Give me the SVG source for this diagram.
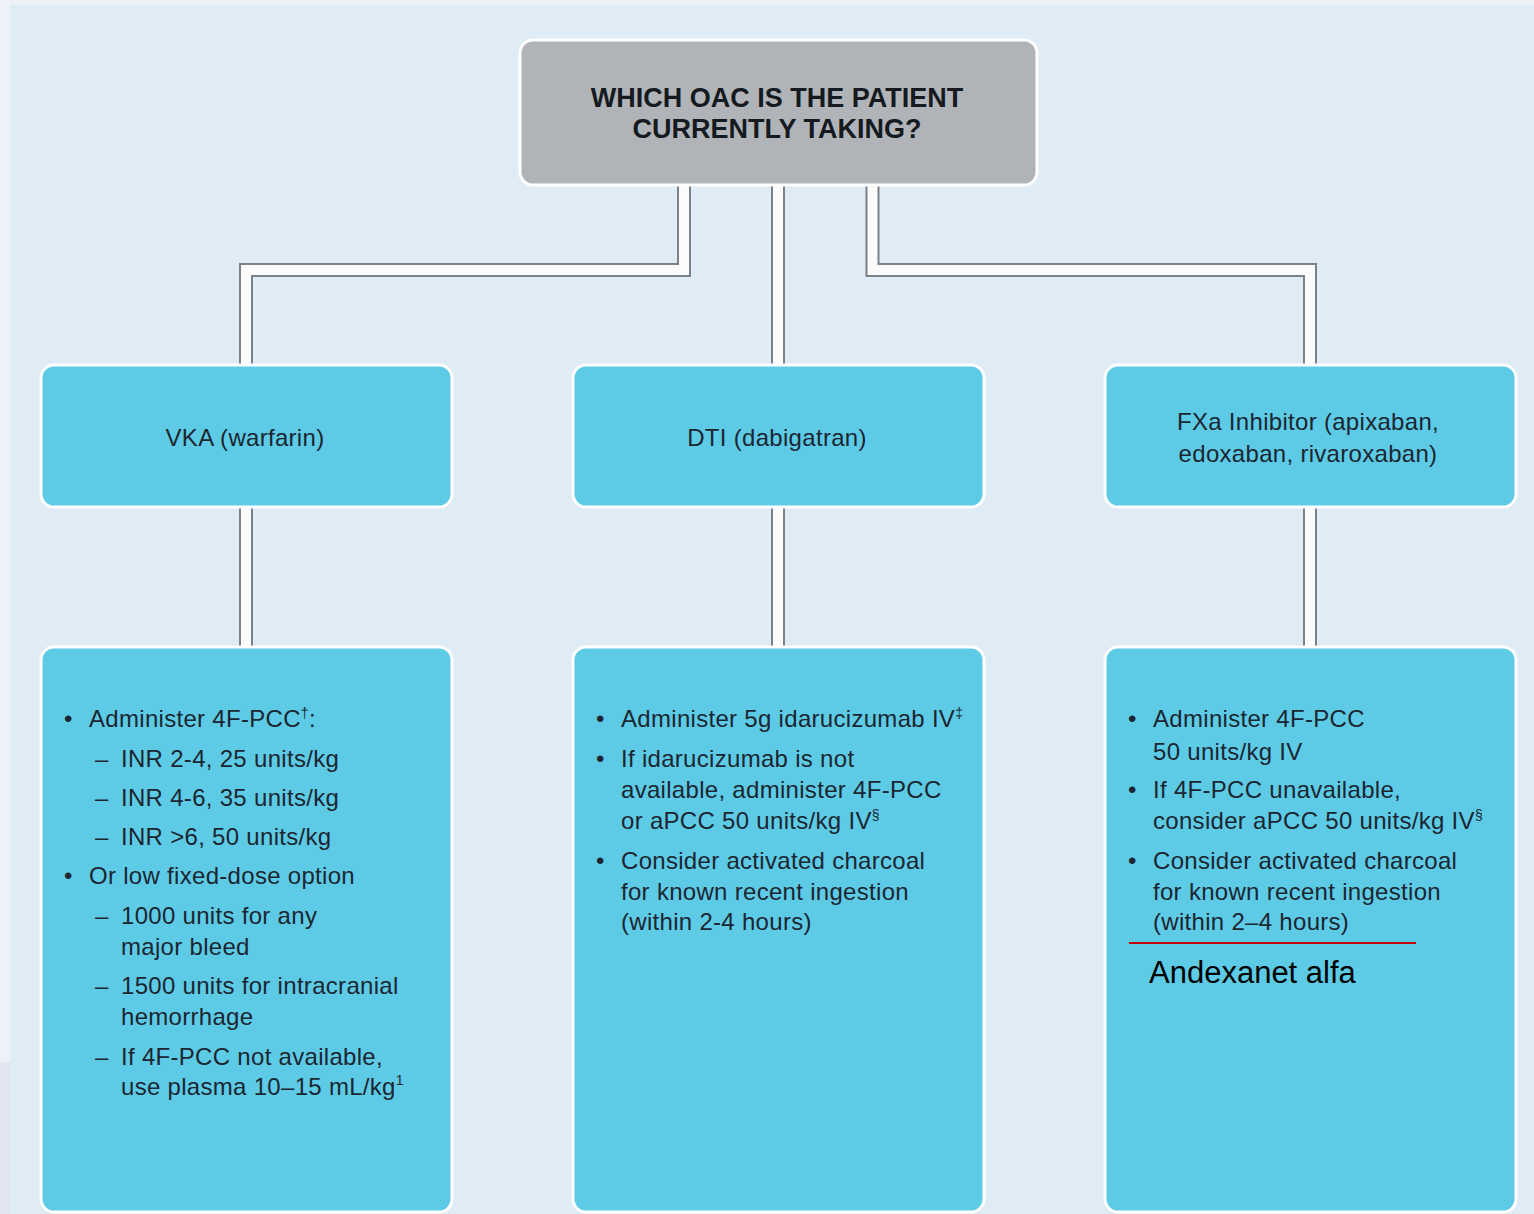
<svg xmlns="http://www.w3.org/2000/svg" width="1534" height="1214" viewBox="0 0 1534 1214">
<style>
.box{fill:#5ecbe6;stroke:#ffffff;stroke-width:3}
.top{fill:#b0b4b8;stroke:#ffffff;stroke-width:3}
.co{fill:none;stroke:#7c8187;stroke-width:14}
.ci{fill:none;stroke:#fbfbfb;stroke-width:10}
.t{font-family:"Liberation Sans",Arial,sans-serif;font-size:24px;fill:#1b2631;letter-spacing:0.3px}
.h{font-family:"Liberation Sans",Arial,sans-serif;font-size:24px;fill:#1b2631;text-anchor:middle;letter-spacing:0.3px}
.q{font-family:"Liberation Sans",Arial,sans-serif;font-size:27px;font-weight:bold;fill:#151a20;text-anchor:middle}
.sup{font-size:14px}
</style>
<rect x="0" y="0" width="1534" height="1214" fill="#eef1f8"/>
<rect x="10" y="5" width="1524" height="1209" fill="#dfebf5"/>
<rect x="0" y="1062" width="10" height="152" fill="#e3e5f0"/>

<g id="connectors">
<path class="co" d="M684,185 V270 H246 V366"/>
<path class="ci" d="M684,185 V270 H246 V366"/>
<path class="co" d="M778,185 V366"/>
<path class="ci" d="M778,185 V366"/>
<path class="co" d="M872.5,185 V270 H1310 V366"/>
<path class="ci" d="M872.5,185 V270 H1310 V366"/>
<path class="co" d="M246,506 V648"/>
<path class="ci" d="M246,506 V648"/>
<path class="co" d="M778,506 V648"/>
<path class="ci" d="M778,506 V648"/>
<path class="co" d="M1310,506 V648"/>
<path class="ci" d="M1310,506 V648"/>
</g>

<g id="question">
<rect class="top" x="520" y="40" width="517" height="145" rx="13"/>
<text class="q" x="777" y="107">WHICH OAC IS THE PATIENT</text>
<text class="q" x="777" y="138">CURRENTLY TAKING?</text>
</g>

<g id="vka">
<rect class="box" x="41" y="365" width="411" height="142" rx="13"/>
<text class="h" x="245" y="446">VKA (warfarin)</text>
</g>
<g id="dti">
<rect class="box" x="573" y="365" width="411" height="142" rx="13"/>
<text class="h" x="777" y="446">DTI (dabigatran)</text>
</g>
<g id="fxa">
<rect class="box" x="1105" y="365" width="411" height="142" rx="13"/>
<text class="h" x="1308" y="430">FXa Inhibitor (apixaban,</text>
<text class="h" x="1308" y="462">edoxaban, rivaroxaban)</text>
</g>

<g id="vka-treatment">
<rect class="box" x="41" y="647" width="411" height="565" rx="13"/>
<text class="t" x="64" y="727">•</text>
<text class="t" x="89" y="727">Administer 4F-PCC<tspan class="sup" dy="-9">†</tspan><tspan dy="9">:</tspan></text>
<text class="t" x="95" y="767">–</text>
<text class="t" x="121" y="767">INR 2-4, 25 units/kg</text>
<text class="t" x="95" y="806">–</text>
<text class="t" x="121" y="806">INR 4-6, 35 units/kg</text>
<text class="t" x="95" y="845">–</text>
<text class="t" x="121" y="845">INR &gt;6, 50 units/kg</text>
<text class="t" x="64" y="884">•</text>
<text class="t" x="89" y="884">Or low fixed-dose option</text>
<text class="t" x="95" y="924">–</text>
<text class="t" x="121" y="924">1000 units for any</text>
<text class="t" x="121" y="955">major bleed</text>
<text class="t" x="95" y="994">–</text>
<text class="t" x="121" y="994">1500 units for intracranial</text>
<text class="t" x="121" y="1025">hemorrhage</text>
<text class="t" x="95" y="1065">–</text>
<text class="t" x="121" y="1065">If 4F-PCC not available,</text>
<text class="t" x="121" y="1095">use plasma 10–15 mL/kg<tspan class="sup" dy="-10">1</tspan></text>
</g>

<g id="dti-treatment">
<rect class="box" x="573" y="647" width="411" height="565" rx="13"/>
<text class="t" x="596" y="727">•</text>
<text class="t" x="621" y="727">Administer 5g idarucizumab IV<tspan class="sup" dy="-9">‡</tspan></text>
<text class="t" x="596" y="767">•</text>
<text class="t" x="621" y="767">If idarucizumab is not</text>
<text class="t" x="621" y="798">available, administer 4F-PCC</text>
<text class="t" x="621" y="829">or aPCC 50 units/kg IV<tspan class="sup" dy="-9">§</tspan></text>
<text class="t" x="596" y="869">•</text>
<text class="t" x="621" y="869">Consider activated charcoal</text>
<text class="t" x="621" y="900">for known recent ingestion</text>
<text class="t" x="621" y="930">(within 2-4 hours)</text>
</g>

<g id="fxa-treatment">
<rect class="box" x="1105" y="647" width="411" height="565" rx="13"/>
<text class="t" x="1128" y="727">•</text>
<text class="t" x="1153" y="727">Administer 4F-PCC</text>
<text class="t" x="1153" y="760">50 units/kg IV</text>
<text class="t" x="1128" y="798">•</text>
<text class="t" x="1153" y="798">If 4F-PCC unavailable,</text>
<text class="t" x="1153" y="829">consider aPCC 50 units/kg IV<tspan class="sup" dy="-9">§</tspan></text>
<text class="t" x="1128" y="869">•</text>
<text class="t" x="1153" y="869">Consider activated charcoal</text>
<text class="t" x="1153" y="900">for known recent ingestion</text>
<text class="t" x="1153" y="930">(within 2–4 hours)</text>
<line x1="1129" y1="943" x2="1416" y2="943" stroke="#c00000" stroke-width="2"/>
<text x="1149" y="983" font-family="Liberation Sans, Arial, sans-serif" font-size="31" fill="#000000">Andexanet alfa</text>
</g>
</svg>
